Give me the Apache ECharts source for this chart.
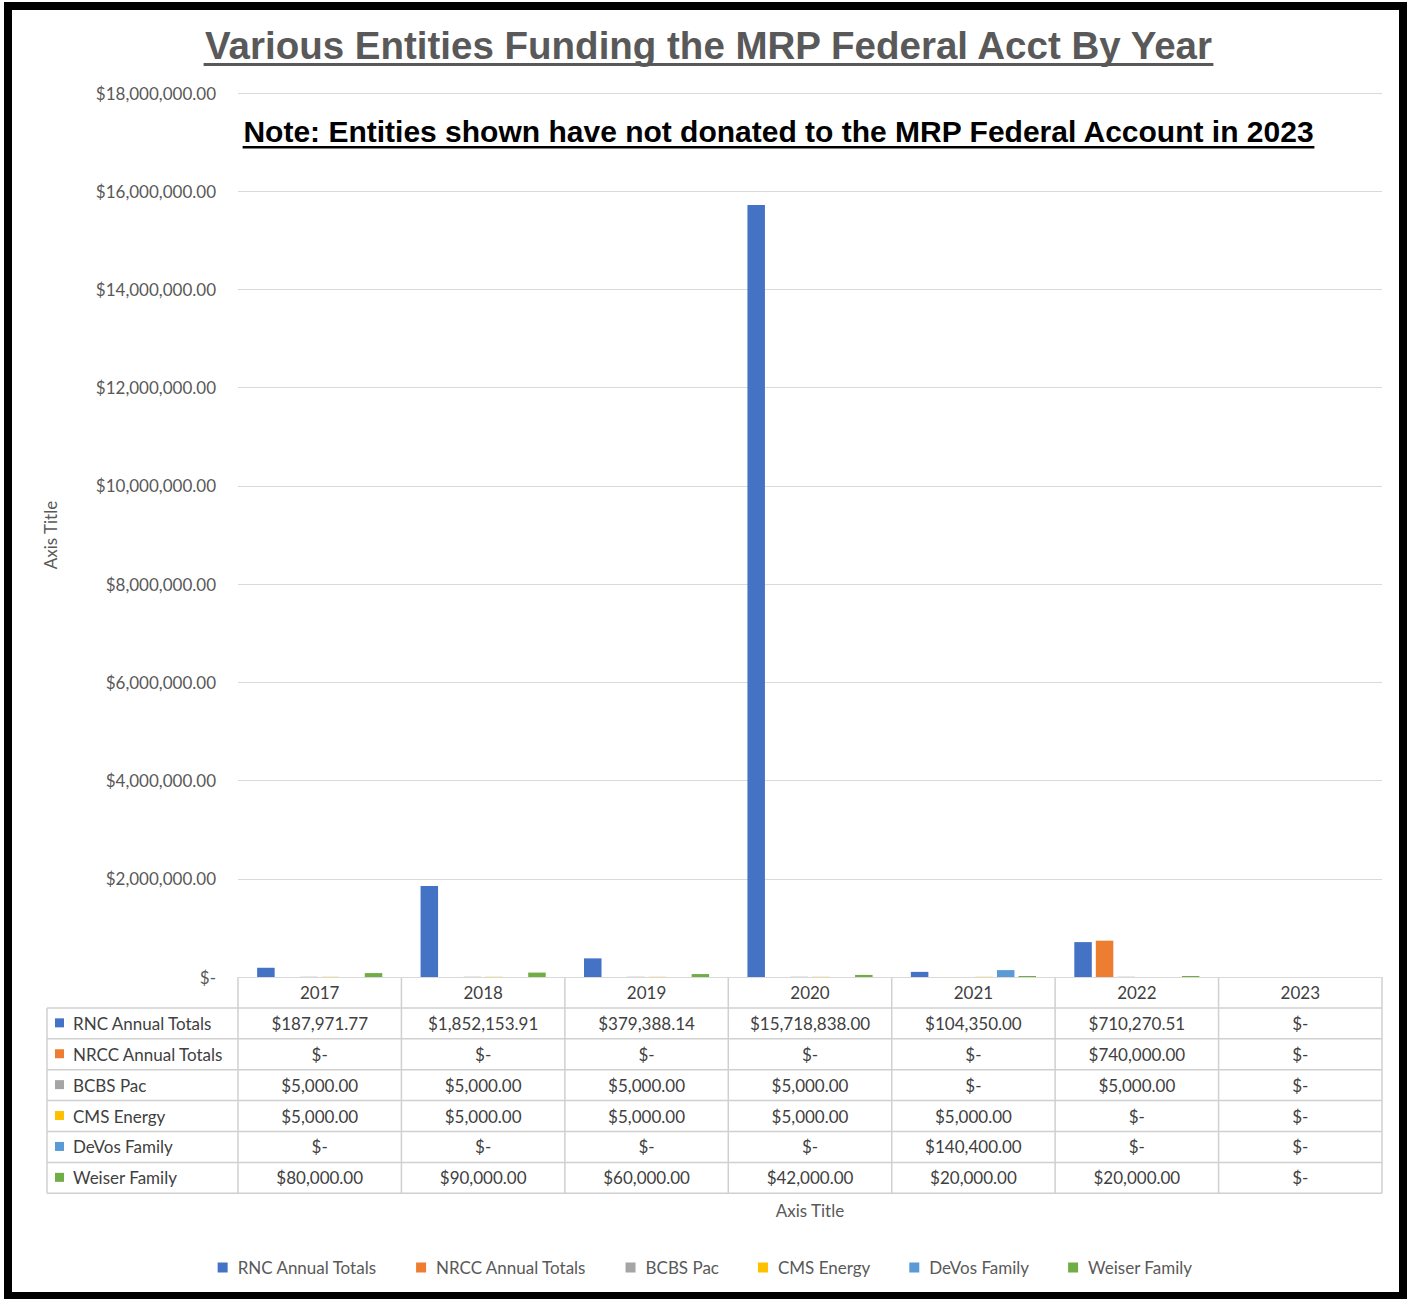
<!DOCTYPE html>
<html>
<head>
<meta charset="utf-8">
<script src="https://cdn.jsdelivr.net/npm/echarts@6/dist/echarts.min.js"></script>
<style>
html,body{margin:0;padding:0;background:#fff;}
#chart{width:1410px;height:1299px;}
</style>
</head>
<body>
<div id="chart"></div>
<script>
const categories = ['2017', '2018', '2019', '2020', '2021', '2022', '2023'];
const seriesNames = ['RNC Annual Totals', 'NRCC Annual Totals', 'BCBS Pac', 'CMS Energy', 'DeVos Family', 'Weiser Family'];
const rncTotals = [187971.77, 1852153.91, 379388.14, 15718838.00, 104350.00, 710270.51, 0];
const nrccTotals = [0, 0, 0, 0, 0, 740000.00, 0];
const bcbsPac = [5000, 5000, 5000, 5000, 0, 5000, 0];
const cmsEnergy = [5000, 5000, 5000, 5000, 5000, 0, 0];
const devosFamily = [0, 0, 0, 0, 140400.00, 0, 0];
const weiserFamily = [80000, 90000, 60000, 42000, 20000, 20000, 0];
const yMin = 0, yMax = 18000000, yInterval = 2000000;
const titleText = 'Various Entities Funding the MRP Federal Acct By Year';
const noteText = 'Note: Entities shown have not donated to the MRP Federal Account in 2023';
const axisTitle = 'Axis Title';

const seriesData = [rncTotals, nrccTotals, bcbsPac, cmsEnergy, devosFamily, weiserFamily];
const colors = ['#4472C4', '#ED7D31', '#A5A5A5', '#FFC000', '#5B9BD5', '#70AD47'];

function money(v) {
  if (!v) return '$-';
  return '$' + v.toLocaleString('en-US', {minimumFractionDigits: 2, maximumFractionDigits: 2});
}

const chart = echarts.init(document.getElementById('chart'), null, {renderer: 'svg'});

const FONT = 'Lato, "Open Sans", sans-serif';
const TXT = '#404040';
const GRAY = '#595959';
const LINE = '#D9D9D9';

chart.setOption({
  animation: false,
  backgroundColor: '#fff',
  color: colors,
  grid: {left: 238, right: 28, top: 93, bottom: 322, containLabel: false},
  legend: {
    bottom: 18, left: 'center',
    itemWidth: 10, itemHeight: 10, itemGap: 39,
    icon: 'rect',
    textStyle: {fontFamily: FONT, fontSize: 17, color: GRAY, padding: [0, 0, 0, 5]},
    data: seriesNames
  },
  xAxis: {
    type: 'category',
    data: categories,
    axisLine: {show: true, lineStyle: {color: LINE, width: 1}},
    axisTick: {show: false},
    axisLabel: {show: false},
    name: axisTitle,
    nameLocation: 'middle',
    nameGap: 225,
    nameTextStyle: {fontFamily: FONT, fontSize: 17, color: GRAY}
  },
  yAxis: {
    type: 'value',
    min: yMin, max: yMax, interval: yInterval,
    axisLine: {show: false},
    axisTick: {show: false},
    splitLine: {lineStyle: {color: LINE, width: 1}},
    axisLabel: {
      fontFamily: FONT, fontSize: 17, color: GRAY, margin: 22,
      formatter: v => money(v)
    },
    name: axisTitle,
    nameLocation: 'middle',
    nameGap: 179,
    nameTextStyle: {fontFamily: FONT, fontSize: 17, color: GRAY}
  },
  series: seriesNames.map((n, i) => ({
    name: n,
    type: 'bar',
    data: seriesData[i],
    barWidth: 17.5,
    barGap: '23%',
    itemStyle: {color: colors[i]}
  }))
});

// ---- Title, note, border, data table (positions from the chart's own scales) ----
const measureCtx = document.createElement('canvas').getContext('2d');
function textWidth(t, font) { measureCtx.font = font; return measureCtx.measureText(t).width; }

const elements = [];
const titleFont = 'bold 38.5px "Liberation Sans", Arial, sans-serif';
const tW = textWidth(titleText, titleFont);
const titleCx = 708.5;
elements.push({type: 'text', x: titleCx, y: 45, style: {text: titleText, font: titleFont, fill: GRAY, textAlign: 'center', textVerticalAlign: 'middle'}});
elements.push({type: 'rect', shape: {x: titleCx - tW / 2, y: 63, width: tW, height: 3}, style: {fill: GRAY}});

const noteFont = 'bold 30px "Liberation Sans", Arial, sans-serif';
const nW = textWidth(noteText, noteFont);
const noteCx = 778.5;
elements.push({type: 'text', x: noteCx, y: 131, style: {text: noteText, font: noteFont, fill: '#000', textAlign: 'center', textVerticalAlign: 'middle'}});
elements.push({type: 'rect', shape: {x: noteCx - nW / 2, y: 146, width: nW, height: 2.5}, style: {fill: '#000'}});

// table
const c0 = chart.convertToPixel({xAxisIndex: 0}, 0);
const c1 = chart.convertToPixel({xAxisIndex: 0}, 1);
const bw = c1 - c0;
const plotLeft = c0 - bw / 2;
const plotRight = plotLeft + bw * categories.length;
const yBase = chart.convertToPixel({yAxisIndex: 0}, 0);
const rowH = 30.9;
const labelLeft = 47;
const nRows = seriesNames.length;
const tableBottom = yBase + rowH * (nRows + 1);

const lineStyle = {stroke: '#D0D0D0', lineWidth: 1.5};
for (let i = 0; i <= categories.length; i++) {
  const x = plotLeft + bw * i;
  elements.push({type: 'line', shape: {x1: x, y1: yBase, x2: x, y2: tableBottom}, style: lineStyle});
}
elements.push({type: 'line', shape: {x1: labelLeft, y1: yBase + rowH, x2: labelLeft, y2: tableBottom}, style: lineStyle});
for (let r = 1; r <= nRows + 1; r++) {
  const y = yBase + rowH * r;
  elements.push({type: 'line', shape: {x1: labelLeft, y1: y, x2: plotRight, y2: y}, style: lineStyle});
}
const cellFont = '17px ' + FONT;
categories.forEach((c, i) => {
  elements.push({type: 'text', x: chart.convertToPixel({xAxisIndex: 0}, i), y: yBase + rowH / 2,
    style: {text: c, font: cellFont, fill: TXT, textAlign: 'center', textVerticalAlign: 'middle'}});
});
seriesNames.forEach((n, r) => {
  const yc = yBase + rowH * (r + 1.5);
  elements.push({type: 'rect', shape: {x: 55, y: yc - 5, width: 9, height: 9}, style: {fill: colors[r]}});
  elements.push({type: 'text', x: 73, y: yc, style: {text: n, font: cellFont, fill: TXT, textAlign: 'left', textVerticalAlign: 'middle'}});
  seriesData[r].forEach((v, i) => {
    elements.push({type: 'text', x: chart.convertToPixel({xAxisIndex: 0}, i), y: yc,
      style: {text: money(v), font: cellFont, fill: TXT, textAlign: 'center', textVerticalAlign: 'middle'}});
  });
});
elements.push({type: 'rect', shape: {x: 8, y: 6, width: 1395, height: 1290}, style: {fill: 'none', stroke: '#000', lineWidth: 8}});

chart.setOption({graphic: {elements: elements}});
</script>
</body>
</html>
